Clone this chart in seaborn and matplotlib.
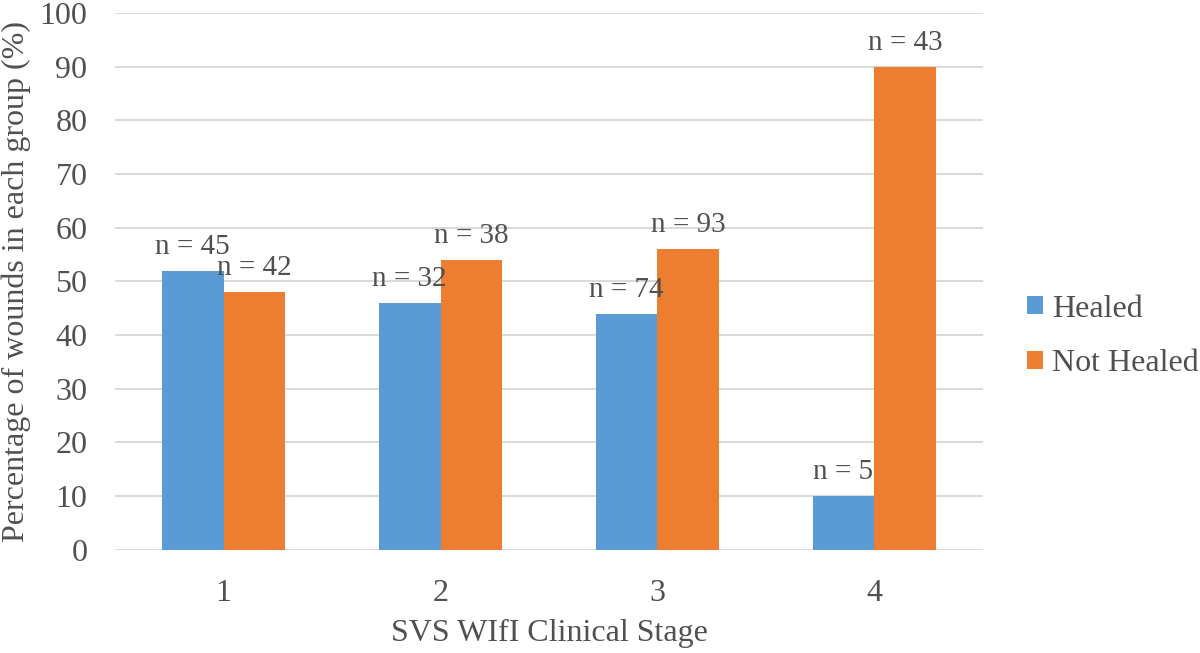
import matplotlib
matplotlib.use("Agg")
import matplotlib.pyplot as plt
from matplotlib.patches import Patch
import seaborn as sns
import pandas as pd

stages = ["1", "2", "3", "4"]
series = ["Healed", "Not Healed"]
healed = [52, 46, 44, 10]
not_healed = [48, 54, 56, 90]
healed_n = [45, 32, 74, 5]
not_healed_n = [42, 38, 93, 43]
colors = ["#5B9BD5", "#ED7D31"]
yticks = list(range(0, 101, 10))

df = pd.DataFrame({
    "stage": stages * 2,
    "group": [series[0]] * len(stages) + [series[1]] * len(stages),
    "pct": healed + not_healed,
})

sns.set_theme(style="white")
plt.rcParams["font.family"] = ["Liberation Serif", "DejaVu Serif"]
txt = "#505050"

fig, ax = plt.subplots(figsize=(12, 6.53), dpi=100)
fig.subplots_adjust(left=0.096, right=0.819, top=0.980, bottom=0.158)

sns.barplot(data=df, x="stage", y="pct", hue="group", palette=colors,
            width=0.57, saturation=1, errorbar=None, legend=False,
            linewidth=0, ax=ax)

for cont, ns in zip(ax.containers, [healed_n, not_healed_n]):
    ax.bar_label(cont, labels=[f"n = {n}" for n in ns], padding=8,
                 fontsize=21, color=txt)

ax.set_ylim(0, 100)
ax.set_yticks(yticks)
ax.set_xlim(-0.5, len(stages) - 0.5)
ax.yaxis.grid(True, color="#D9D9D9", linewidth=1.4)
ax.xaxis.grid(False)
ax.set_axisbelow(True)
for s in ax.spines.values():
    s.set_visible(False)
ax.tick_params(axis="y", length=0, pad=20, labelsize=23, labelcolor=txt)
ax.tick_params(axis="x", length=0, pad=21, labelsize=23, labelcolor=txt)
ax.set_xlabel("SVS WIfI Clinical Stage", fontsize=23, color=txt, labelpad=8)
ax.set_ylabel("Percentage of wounds in each group (%)", fontsize=23,
              color=txt, labelpad=6)

handles = [Patch(facecolor=c, edgecolor="none", label=l) for c, l in zip(colors, series)]
fig.legend(handles=handles, loc="center left", bbox_to_anchor=(0.832, 0.485),
           frameon=False, fontsize=23, handlelength=0.5, handleheight=0.5,
           handletextpad=0.28, labelspacing=0.8, labelcolor=txt)

fig.savefig("out.png", dpi=100)
